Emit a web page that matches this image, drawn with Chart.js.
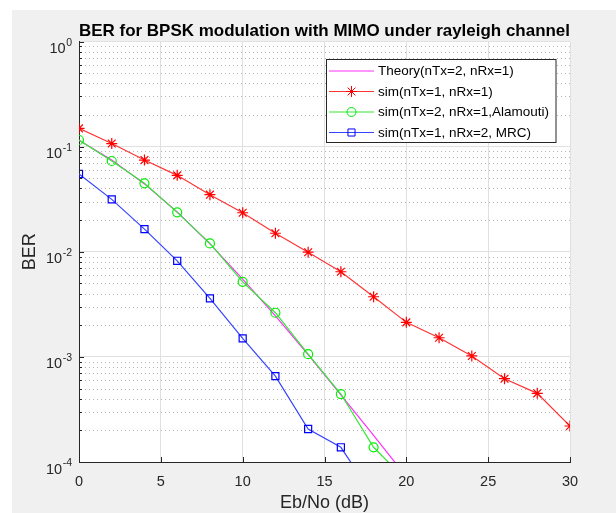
<!DOCTYPE html>
<html>
<head>
<meta charset="utf-8">
<title>BER BPSK MIMO</title>
<script src="https://cdn.jsdelivr.net/npm/chart.js@4.4.0/dist/chart.umd.min.js"></script>
<style>
    html, body { margin: 0; padding: 0; background: #ffffff; }
    canvas { display: block; }
</style>
</head>
<body>
<canvas id="graficoBER" width="616" height="513"></canvas>
<script>
// 🔥 datos
let ebno = [0, 2, 4, 6, 8, 10, 12, 14, 16, 18, 20, 22, 24, 26, 28, 30];

let teoria   = [0.115, 0.0748, 0.0442, 0.0239, 0.0119, 0.0055, 0.00245, 0.00105, 0.000436, 0.000179, 0.0000726];
let sim1x1   = [0.149, 0.107, 0.0745, 0.0533, 0.0349, 0.0235, 0.0150, 0.0099, 0.00645, 0.00373, 0.00213, 0.00152, 0.00102, 0.00062, 0.00045, 0.00022];
let alamouti = [0.1156, 0.073, 0.0448, 0.0237, 0.0120, 0.00517, 0.00263, 0.00106, 0.000443, 0.000138, 0.000067];
let mrc      = [0.0549, 0.0315, 0.0164, 0.0082, 0.0036, 0.0015, 0.000656, 0.000206, 0.000138, 0.000047];

let ticksX = [0, 5, 10, 15, 20, 25, 30];
let exponentesY = [0, -1, -2, -3, -4];

let etiquetas = ["Theory(nTx=2, nRx=1)", "sim(nTx=1, nRx=1)", "sim(nTx=2, nRx=1,Alamouti)", "sim(nTx=1, nRx=2, MRC)"];

const FUENTE = "'Liberation Sans', Arial, Helvetica, sans-serif";
const GRIS = "#262626";

function puntos(valores) {
    return valores.map((v, i) => ({ x: ebno[i], y: v }));
}

// 🔥 marcas estilo matlab (para la leyenda)
function dibujarMarca(ctx, estilo, x, y, r, color) {
    ctx.save();
    ctx.strokeStyle = color;
    ctx.lineWidth = 1;
    ctx.beginPath();
    if (estilo === "star") {
        let d = r * Math.SQRT1_2;
        ctx.moveTo(x - r, y); ctx.lineTo(x + r, y);
        ctx.moveTo(x, y - r); ctx.lineTo(x, y + r);
        ctx.moveTo(x - d, y - d); ctx.lineTo(x + d, y + d);
        ctx.moveTo(x - d, y + d); ctx.lineTo(x + d, y - d);
    } else if (estilo === "circle") {
        ctx.arc(x, y, r, 0, Math.PI * 2);
    } else if (estilo === "rect") {
        let s = r * Math.SQRT1_2;
        ctx.rect(x - s, y - s, 2 * s, 2 * s);
    }
    ctx.stroke();
    ctx.restore();
}

// 🔥 fondo gris de la figura
const fondo = {
    id: "fondo",
    beforeDraw(chart) {
        let ctx = chart.ctx;
        let a = chart.chartArea;
        ctx.save();
        ctx.fillStyle = "#ffffff";
        ctx.fillRect(0, 0, chart.width, chart.height);
        ctx.fillStyle = "#f0f0f0";
        ctx.fillRect(12, 10, chart.width - 12, chart.height - 10);
        ctx.fillStyle = "#ffffff";
        ctx.fillRect(a.left, a.top, a.right - a.left, a.bottom - a.top);
        ctx.restore();
    }
};

// 🔥 rejilla menor punteada + ticks hacia dentro
const rejilla = {
    id: "rejilla",
    beforeDatasetsDraw(chart) {
        let ctx = chart.ctx;
        let a = chart.chartArea;
        let y = chart.scales.y;
        ctx.save();
        ctx.strokeStyle = "#b4b4b4";
        ctx.lineWidth = 1;
        ctx.setLineDash([1, 3]);
        for (let e = -4; e < 0; e++) {
            for (let k = 2; k <= 9; k++) {
                let py = Math.round(y.getPixelForValue(k * Math.pow(10, e))) + 0.5;
                ctx.beginPath();
                ctx.moveTo(a.left + 2, py);
                ctx.lineTo(a.right, py);
                ctx.stroke();
            }
        }
        ctx.restore();
    },
    afterDatasetsDraw(chart) {
        let ctx = chart.ctx;
        let a = chart.chartArea;
        let x = chart.scales.x;
        let y = chart.scales.y;
        ctx.save();
        ctx.strokeStyle = GRIS;
        ctx.lineWidth = 1;
        ctx.beginPath();
        for (let e = -4; e < 0; e++) {
            for (let k = 2; k <= 9; k++) {
                let py = Math.round(y.getPixelForValue(k * Math.pow(10, e))) + 0.5;
                ctx.moveTo(a.left, py);
                ctx.lineTo(a.left + 3, py);
            }
        }
        exponentesY.forEach(e => {
            let py = Math.round(y.getPixelForValue(Math.pow(10, e))) + 0.5;
            ctx.moveTo(a.left, py);
            ctx.lineTo(a.left + 5, py);
        });
        ticksX.forEach(v => {
            let px = Math.round(x.getPixelForValue(v)) + 0.5;
            ctx.moveTo(px, a.bottom);
            ctx.lineTo(px, a.bottom - 5);
        });
        ctx.stroke();
        ctx.restore();
    }
};

// 🔥 etiquetas 10^n del eje y
const etiquetasY = {
    id: "etiquetasY",
    afterDraw(chart) {
        let ctx = chart.ctx;
        let y = chart.scales.y;
        ctx.save();
        ctx.fillStyle = GRIS;
        ctx.textBaseline = "alphabetic";
        exponentesY.forEach(e => {
            let py = y.getPixelForValue(Math.pow(10, e));
            let exp = String(e);
            ctx.font = "10.5px " + FUENTE;
            let w = ctx.measureText(exp).width;
            ctx.textAlign = "left";
            ctx.fillText(exp, 72 - w, py + 4);
            ctx.font = "14.5px " + FUENTE;
            ctx.textAlign = "right";
            ctx.fillText("10", 72 - w - 0.5, py + 11.5);
        });
        ctx.restore();
    }
};

// 🔥 leyenda
const leyenda = {
    id: "leyenda",
    afterDraw(chart) {
        let ctx = chart.ctx;
        ctx.save();
        ctx.fillStyle = "#ffffff";
        ctx.fillRect(326.5, 59.5, 229.5, 83);
        ctx.strokeStyle = GRIS;
        ctx.lineWidth = 1;
        ctx.strokeRect(326.5, 59.5, 229.5, 83);
        ctx.font = "13.5px " + FUENTE;
        ctx.textAlign = "left";
        ctx.textBaseline = "middle";
        chart.data.datasets.forEach((ds, i) => {
            let py = 71 + i * 20.5;
            ctx.strokeStyle = ds.borderColor;
            ctx.lineWidth = 1.2;
            ctx.beginPath();
            ctx.moveTo(329, py);
            ctx.lineTo(374, py);
            ctx.stroke();
            if (ds.pointRadius > 0) {
                dibujarMarca(ctx, ds.pointStyle, 351.5, py, ds.pointRadius, ds.pointBorderColor);
            }
            ctx.fillStyle = "#000000";
            ctx.fillText(ds.label, 378, py + 0.5);
        });
        ctx.restore();
    }
};

new Chart(document.getElementById("graficoBER"), {
    type: "line",
    data: {
        datasets: [
            {
                label: etiquetas[0], data: puntos(teoria), order: 4,
                borderColor: "#ff30ff", borderWidth: 1.2, pointRadius: 0
            },
            {
                label: etiquetas[1], data: puntos(sim1x1), order: 3,
                borderColor: "#ff3535", borderWidth: 1.2,
                pointStyle: "star", pointRadius: 5.5, pointBorderWidth: 1.2,
                pointBorderColor: "#ff0000", pointBackgroundColor: "#ff0000"
            },
            {
                label: etiquetas[2], data: puntos(alamouti), order: 2,
                borderColor: "#35e835", borderWidth: 1.2,
                pointStyle: "circle", pointRadius: 4.5, pointBorderWidth: 1.2,
                pointBorderColor: "#00f000", pointBackgroundColor: "rgba(0,0,0,0)"
            },
            {
                label: etiquetas[3], data: puntos(mrc), order: 1,
                borderColor: "#3545ff", borderWidth: 1.2,
                pointStyle: "rect", pointRadius: 5, pointBorderWidth: 1.2,
                pointBorderColor: "#0000ff", pointBackgroundColor: "rgba(0,0,0,0)"
            }
        ]
    },
    options: {
        responsive: false,
        animation: false,
        devicePixelRatio: 1,
        events: [],
        layout: { padding: { left: 0, right: 46, top: 0, bottom: 0 } },
        elements: { line: { tension: 0 } },
        plugins: {
            legend: { display: false },
            tooltip: { enabled: false },
            title: {
                display: true,
                text: "BER for BPSK modulation with MIMO under rayleigh channel",
                fullSize: false,
                color: "#000000",
                font: { family: FUENTE, size: 17, weight: "bold" },
                padding: { top: 20.8, bottom: 0.3 }
            }
        },
        scales: {
            x: {
                type: "linear",
                min: 0,
                max: 30,
                afterBuildTicks: s => { s.ticks = ticksX.map(v => ({ value: v })); },
                afterFit: s => { s.height = 51; },
                grid: { color: "#e0e0e0", drawTicks: false },
                border: { display: true, color: GRIS, width: 1 },
                ticks: {
                    color: GRIS,
                    padding: 11,
                    maxRotation: 0,
                    font: { family: FUENTE, size: 14.5 }
                },
                title: {
                    display: true,
                    text: "Eb/No (dB)",
                    color: GRIS,
                    font: { family: FUENTE, size: 18, lineHeight: 1.1 },
                    padding: { top: 0, bottom: 0 }
                }
            },
            y: {
                type: "logarithmic",
                min: 0.0001,
                max: 1,
                afterBuildTicks: s => { s.ticks = exponentesY.map(e => ({ value: Math.pow(10, e) })); },
                afterFit: s => { s.width = 79; },
                grid: { color: "#e0e0e0", drawTicks: false },
                border: { display: true, color: GRIS, width: 1 },
                ticks: { display: false },
                title: {
                    display: true,
                    text: "BER",
                    color: GRIS,
                    font: { family: FUENTE, size: 18 },
                    padding: { top: 19, bottom: 0 }
                }
            }
        }
    },
    plugins: [fondo, rejilla, etiquetasY, leyenda]
});
</script>
</body>
</html>
